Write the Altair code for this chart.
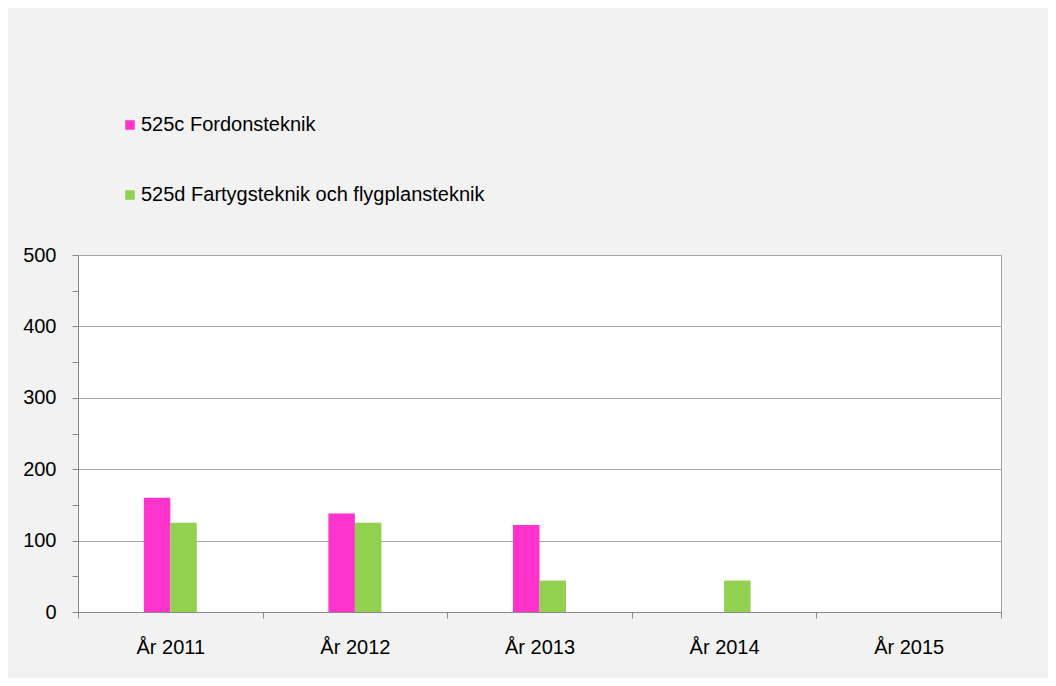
import altair as alt
import pandas as pd

years = ["År 2011", "År 2012", "År 2013", "År 2014", "År 2015"]
series = ["525c Fordonsteknik", "525d Fartygsteknik och flygplansteknik"]
fordon = [160, 138, 122, 0, 0]
fartyg = [125, 125, 44, 44, 0]
colors = ["#ff33cc", "#92d050"]
y_ticks = [0, 50, 100, 150, 200, 250, 300, 350, 400, 450, 500]
# empty slots on either side of each group, so the two bars sit together in the middle
offset_slots = ["_a", "_b"] + series + ["_c", "_d"]

rows = []
for i, y in enumerate(years):
    rows.append({"year": y, "series": series[0], "value": fordon[i]})
    rows.append({"year": y, "series": series[1], "value": fartyg[i]})
df = pd.DataFrame(rows)

FONT = "Liberation Sans"

chart = alt.Chart(df).mark_bar().encode(
    x=alt.X(
        "year:N", sort=years,
        scale=alt.Scale(paddingInner=0, paddingOuter=0),
        axis=alt.Axis(
            title=None, labelAngle=0, tickBand="extent", grid=False,
            domainColor="#888888", tickColor="#888888", tickSize=6,
            labelFont=FONT, labelFontSize=20, labelColor="#000000",
            labelPadding=19,
        ),
    ),
    xOffset=alt.XOffset(
        "series:N",
        scale=alt.Scale(domain=offset_slots, paddingInner=0, paddingOuter=0.485),
    ),
    y=alt.Y(
        "value:Q",
        scale=alt.Scale(domain=[0, 500], nice=False),
        axis=alt.Axis(
            title=None, values=y_ticks,
            labelExpr="datum.value % 100 === 0 ? datum.label : ''",
            grid=True, gridColor="#a6a6a6",
            gridOpacity={"condition": {"test": "datum.value % 100 === 0", "value": 1}, "value": 0},
            domainColor="#888888", tickColor="#888888", tickSize=6,
            labelFont=FONT, labelFontSize=20, labelColor="#000000",
            labelPadding=16,
        ),
    ),
    color=alt.Color(
        "series:N", sort=series,
        scale=alt.Scale(domain=series, range=colors),
        legend=alt.Legend(
            title=None, orient="none", legendX=42, legendY=-140,
            direction="vertical", symbolType="square", symbolSize=90,
            symbolStrokeWidth=0, labelFont=FONT, labelFontSize=20,
            labelColor="#000000", labelLimit=600, labelOffset=1,
            rowPadding=50, padding=0,
        ),
    ),
).properties(
    width=923, height=357,
    padding={"left": 70, "top": 247, "right": 47, "bottom": 66},
    autosize=alt.AutoSizeParams(type="none"),
    background="#f2f2f2",
).configure_view(
    stroke="#a6a6a6", strokeWidth=1, fill="#ffffff",
)

chart.save("out.html", embed_options={"renderer": "svg", "actions": False})
